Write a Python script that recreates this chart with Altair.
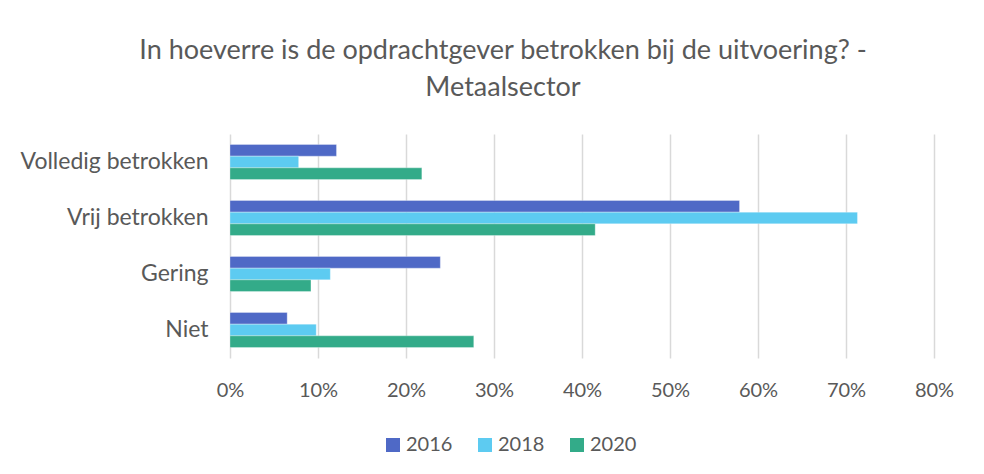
import altair as alt
import pandas as pd

categories = ["Volledig betrokken", "Vrij betrokken", "Gering", "Niet"]
years = ["2016", "2018", "2020"]
values_2016 = [12.1, 57.9, 23.9, 6.5]
values_2018 = [7.8, 71.3, 11.4, 9.8]
values_2020 = [21.8, 41.5, 9.2, 27.7]
colors = ["#4F69C6", "#5DCBF1", "#33AB89"]
x_ticks = [0, 0.1, 0.2, 0.3, 0.4, 0.5, 0.6, 0.7, 0.8]
title_lines = ["In hoeverre is de opdrachtgever betrokken bij de uitvoering? -", "Metaalsector"]

rows = []
for yr, vals in zip(years, [values_2016, values_2018, values_2020]):
    for c, v in zip(categories, vals):
        rows.append({"categorie": c, "jaar": yr, "waarde": v / 100})
df = pd.DataFrame(rows)

FONT = "Lato"
GREY = "#595959"

bars = alt.Chart(df).mark_bar(stroke="white", strokeWidth=0.6, strokeOpacity=0.5).encode(
    y=alt.Y(
        "categorie:N",
        sort=categories,
        scale=alt.Scale(paddingInner=0.375, paddingOuter=0.1875),
        axis=alt.Axis(title=None, ticks=False, domain=False, labelFontSize=23,
                      labelFont=FONT, labelColor=GREY, labelPadding=22, labelLimit=400),
    ),
    yOffset=alt.YOffset("jaar:N", sort=years, scale=alt.Scale(paddingInner=0, paddingOuter=0)),
    x=alt.X(
        "waarde:Q",
        scale=alt.Scale(domain=[0, 0.8]),
        axis=alt.Axis(title=None, format=".0%", values=x_ticks, grid=True, gridColor="#D9D9D9",
                      gridWidth=1.5, domain=False, ticks=False, labelFontSize=20,
                      labelFont=FONT, labelColor=GREY, labelPadding=22, labelFlush=False),
    ),
    color=alt.Color(
        "jaar:N",
        scale=alt.Scale(domain=years, range=colors),
        legend=alt.Legend(orient="none", legendX=153, legendY=301, direction="horizontal",
                          title=None, symbolType="square", symbolSize=196, symbolStrokeWidth=0,
                          labelFontSize=20, labelFont=FONT, labelColor=GREY,
                          columnPadding=22, labelOffset=3),
    ),
)

chart = bars.properties(
    width=704,
    height=224,
    autosize=alt.AutoSizeParams(type="none"),
    padding={"left": 222, "top": 126, "right": 42, "bottom": 108},
    title=alt.TitleParams(title_lines, fontSize=27, font=FONT, fontWeight="normal", color=GREY,
                          anchor="middle", dx=-79, offset=32, lineHeight=37),
).configure_view(stroke=None)

chart.save("out.html", embed_options={"renderer": "svg", "actions": False})
